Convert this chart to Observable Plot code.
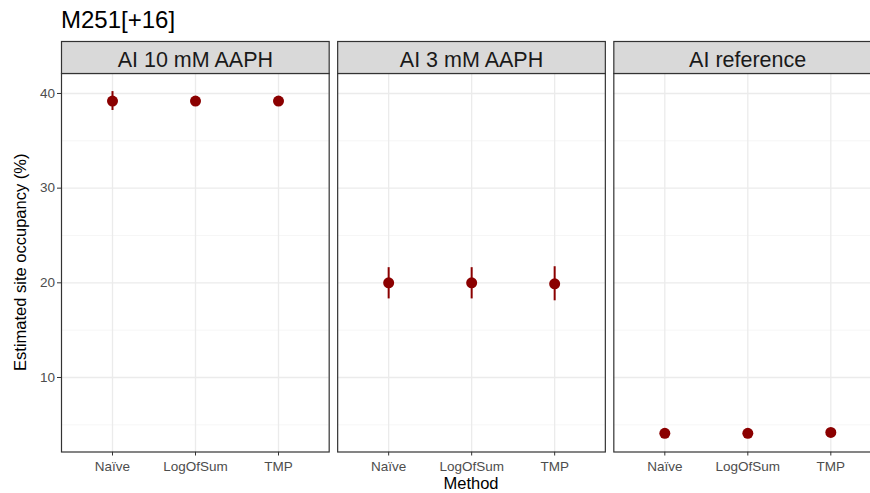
<!DOCTYPE html>
<html>
<head>
<meta charset="utf-8">
<script src="https://cdn.jsdelivr.net/npm/d3@7"></script>
<script src="https://cdn.jsdelivr.net/npm/@observablehq/plot@0.6"></script>
<style>
  html, body { margin: 0; padding: 0; overflow: hidden; background: #fff; }
  #chart { width: 870px; height: 493px; overflow: hidden; }
  #chart svg { max-width: none !important; }
</style>
</head>
<body>
<div id="chart"></div>
<script>
const title = "M251[+16]";
const conditions = ["AI 10 mM AAPH", "AI 3 mM AAPH", "AI reference"];
const methods = ["Naïve", "LogOfSum", "TMP"];
const estimate = [[39.2, 39.2, 39.2], [20.0, 20.0, 19.9], [4.1, 4.1, 4.2]];
const lower    = [[38.2, 39.1, 39.1], [18.3, 18.3, 18.1], [4.0, 4.0, 4.1]];
const upper    = [[40.2, 39.3, 39.3], [21.6, 21.6, 21.7], [4.2, 4.2, 4.3]];
const yTicks = [10, 20, 30, 40];
const yMinor = [5, 15, 25, 35];
const xLabel = "Method";
const yLabel = "Estimated site occupancy (%)";

const rows = [];
conditions.forEach((c, i) => methods.forEach((m, j) => {
  rows.push({condition: c, method: m, est: estimate[i][j], lo: lower[i][j], hi: upper[i][j]});
}));
const majorGrid = conditions.flatMap(c => yTicks.map(v => ({condition: c, v})));
const minorGrid = conditions.flatMap(c => yMinor.map(v => ({condition: c, v})));
const vGrid = conditions.flatMap(c => methods.map(m => ({condition: c, m})));

const W = 890, H = 493;
const mTop = 73, mBottom = 41.5, mLeft = 61, mRight = 9;
const panelH = H - mTop - mBottom;
const stripH = 32;
const dark = "#8b0000";

const plot = Plot.plot({
  width: W,
  height: H,
  marginTop: mTop,
  marginBottom: mBottom,
  marginLeft: mLeft,
  marginRight: mRight,
  style: {fontFamily: "'Liberation Sans', Arial, sans-serif", fontSize: "13.5px", color: "#4d4d4d", background: "#fff", maxWidth: "none"},
  fx: {domain: conditions, paddingInner: 0.0307, paddingOuter: 0, round: false, axis: null, label: null},
  x: {type: "point", domain: methods, padding: 0.6, label: null, tickSize: 4, tickPadding: 5.5},
  y: {domain: [2.13, 42.11], ticks: yTicks, label: null, tickSize: 4, tickPadding: 2.5},
  marks: [
    Plot.ruleY(minorGrid, {fx: "condition", y: "v", stroke: "#f2f2f2", strokeWidth: 0.7}),
    Plot.ruleY(majorGrid, {fx: "condition", y: "v", stroke: "#ebebeb", strokeWidth: 1.3}),
    Plot.ruleX(vGrid, {fx: "condition", x: "m", stroke: "#ebebeb", strokeWidth: 1.3}),
    Plot.ruleX(rows, {fx: "condition", x: "method", y1: "lo", y2: "hi", stroke: dark, strokeWidth: 2}),
    Plot.dot(rows, {fx: "condition", x: "method", y: "est", r: 5.5, fill: dark, stroke: "none"}),
    Plot.frame({stroke: "#333333", strokeWidth: 1.2}),
    Plot.frame({fill: "#d9d9d9", stroke: "#333333", strokeWidth: 1.2, insetTop: -stripH, insetBottom: panelH}),
    Plot.text(conditions, {fx: d => d, text: d => d, frameAnchor: "top", lineAnchor: "middle", dy: -13.2, fontSize: 21.5, fill: "#1a1a1a"})
  ]
});

const svg = d3.select(plot);
svg.selectAll("g[aria-label$='tick'] path").attr("stroke", "#333333");
svg.append("text")
  .attr("x", mLeft).attr("y", 28).attr("text-anchor", "start")
  .attr("font-size", 24).attr("fill", "#000")
  .text(title);
svg.append("text")
  .attr("x", (mLeft + (W - mRight)) / 2).attr("y", 489)
  .attr("text-anchor", "middle").attr("font-size", 16.5).attr("fill", "#000")
  .text(xLabel);
svg.append("text")
  .attr("transform", `translate(26,${mTop + panelH / 2}) rotate(-90)`)
  .attr("text-anchor", "middle").attr("font-size", 16.5).attr("fill", "#000")
  .text(yLabel);

document.getElementById("chart").append(plot);
</script>
</body>
</html>
